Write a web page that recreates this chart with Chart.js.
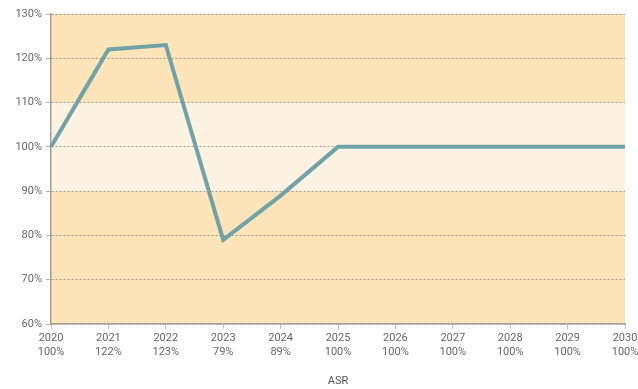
<!DOCTYPE html>
<html>
<head>
<meta charset="utf-8">
<script src="https://cdn.jsdelivr.net/npm/chart.js@4"></script>
<style>
html,body{margin:0;padding:0;background:#fff;}
#wrap{width:638px;height:389px;position:relative;}
</style>
</head>
<body>
<div id="wrap"><canvas id="c" width="638" height="389"></canvas></div>
<script>
const years = ['2020','2021','2022','2023','2024','2025','2026','2027','2028','2029','2030'];
const asr = [100,122,123,79,89,100,100,100,100,100,100];
const yTicks = [60,70,80,90,100,110,120,130];
const bands = [
  {from:60,to:90,color:'#FDE4B9'},
  {from:90,to:110,color:'#FEF2E3'},
  {from:110,to:130,color:'#FDE4B9'}
];
const axisTitle = 'ASR';

const bandPlugin = {
  id:'bands',
  beforeDraw(chart){
    const {ctx, chartArea:a, scales:{y}} = chart;
    ctx.save();
    bands.forEach(b=>{
      const y1 = y.getPixelForValue(b.to), y2 = y.getPixelForValue(b.from);
      ctx.fillStyle = b.color;
      ctx.fillRect(a.left, y1, a.right-a.left, y2-y1);
    });
    ctx.restore();
  }
};

const labels = years.map((yr,i)=>[yr, asr[i]+'%']);

new Chart(document.getElementById('c'), {
  type:'line',
  data:{labels, datasets:[{data:asr, borderColor:'#70A2A8', borderWidth:4, pointRadius:0, tension:0, fill:false, borderJoinStyle:'miter'}]},
  plugins:[bandPlugin],
  options:{
    responsive:false, animation:false,
    layout:{padding:{top:14,right:0,left:0,bottom:0}},
    plugins:{legend:{display:false},tooltip:{enabled:false}},
    scales:{
      x:{
        offset:false,
        afterFit(s){s.height=65; s.paddingRight=13; s.paddingLeft=0;},
        grid:{drawOnChartArea:false, drawTicks:true, tickLength:5, color:'#b8b0a6', tickColor:'#c8c0b6'},
        border:{display:true,color:'#a89e94',width:1.5},
        ticks:{color:'#666',font:{family:'Roboto',size:11},padding:3,maxRotation:0,autoSkip:false},
        title:{display:true,text:axisTitle,color:'#555',font:{family:'Roboto',size:11},padding:{top:4,bottom:1}}
      },
      y:{
        min:60,max:130,
        afterFit(s){s.width=51;},
        afterBuildTicks(s){s.ticks = yTicks.map(v=>({value:v}));},
        grid:{color:'rgba(150,130,110,0.8)', lineWidth:1, tickLength:5, tickColor:'#b8b0a6', tickBorderDash:[]},
        border:{display:true,color:'#a89e94',width:1.5, dash:[2,2]},
        ticks:{color:'#666',font:{family:'Roboto',size:11},padding:4,callback:v=>v+'%'}
      }
    }
  }
});
</script>
</body>
</html>
